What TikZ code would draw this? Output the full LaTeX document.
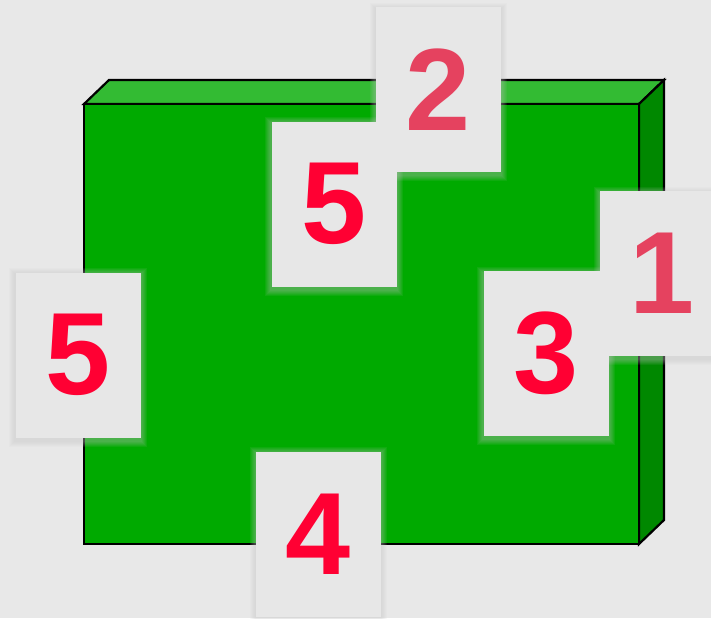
\documentclass[tikz,border=0pt]{standalone}
\usepackage{fontspec}
\newfontfamily\digitfont{Liberation Sans}
\usepackage{tikz}
\usetikzlibrary{calc}
\definecolor{bggray}{HTML}{E8E8E8}
\definecolor{cardgray}{HTML}{E7E7E7}
\definecolor{glowgray}{HTML}{C4C4C4}
\definecolor{frontgreen}{HTML}{00AA00}
\definecolor{topgreen}{HTML}{33BB33}
\definecolor{sidegreen}{HTML}{008800}
\definecolor{numred}{HTML}{FF0033}
\definecolor{numpink}{HTML}{E5425F}
\pgfdeclarelayer{boxlayer}
\pgfdeclarelayer{glowlayer}
\pgfsetlayers{boxlayer,glowlayer,main}

\begin{document}
\begin{tikzpicture}[
    x=1pt, y=-1pt,
    face/.style={draw=black, line width=2.2pt, line join=miter},
    card/.style={fill=cardgray, minimum width=125pt, minimum height=165pt,
                 inner sep=0pt, text=numred,
                 font=\digitfont\bfseries\fontsize{117}{117}\selectfont},
    faded/.style={text=numpink},
  ]

  \useasboundingbox (0,0) rectangle (711,618);
  \clip (0,0) rectangle (711,618);

  % ── Box corners ──
  \coordinate (fnw) at (84,104);
  \coordinate (fne) at (639,104);
  \coordinate (fse) at (639,544);
  \coordinate (fsw) at (84,544);
  \coordinate (bnw) at (109,80);
  \coordinate (bne) at (664,80);
  \coordinate (bse) at (664,520);

  % ── Background and box faces ──
  \begin{pgfonlayer}{boxlayer}
    \fill[bggray] (0,0) rectangle (711,618);
    \filldraw[face, fill=topgreen] (fnw) -- (bnw) -- (bne) -- (fne) -- cycle;
    \filldraw[face, fill=sidegreen] (fne) -- (bne) -- (bse) -- (fse) -- cycle;
    \filldraw[face, fill=frontgreen] (fnw) rectangle (fse);
  \end{pgfonlayer}

  % ── Cards ──
  \node[card] at (78,355) (fiveleft) {5};
  \node[card] at (334,204) (fivetop) {5};
  \node[card, faded] at (438.5,89.5) (two) {2};
  \node[card] at (546,353.5) (three) {3};
  \node[card, faded] at (662.5,273.5) (one) {1};
  \node[card] at (318.5,534) (four) {4};

  % ── Soft shadows round the cards ──
  \begin{pgfonlayer}{glowlayer}
    \foreach \c in {fiveleft,fivetop,two,three,one,four}
      \foreach \r in {1,...,6}
        \fill[glowgray, opacity=0.08]
          ($(\c.south west)+(-\r,\r+3)$) rectangle ($(\c.north east)+(\r,-\r+2)$);
  \end{pgfonlayer}

\end{tikzpicture}
\end{document}
